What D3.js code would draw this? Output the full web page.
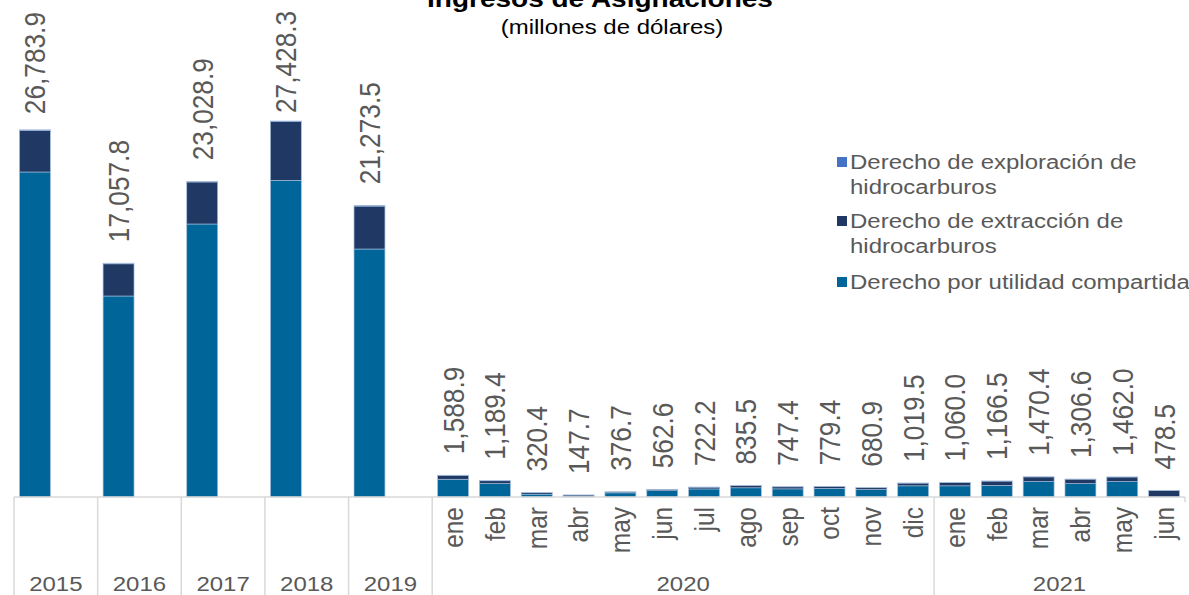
<!DOCTYPE html>
<html>
<head>
<meta charset="utf-8">
<script src="https://cdn.jsdelivr.net/npm/d3@7/dist/d3.min.js"></script>
<style>
  html, body { margin: 0; padding: 0; background: #fff; }
  svg { display: block; font-family: "Liberation Sans", Arial, sans-serif; }
</style>
</head>
<body>
<svg id="chart"></svg>
<script>
// categorias
const years = ['2015', '2016', '2017', '2018', '2019'];
const months2020 = ['ene', 'feb', 'mar', 'abr', 'may', 'jun', 'jul', 'ago', 'sep', 'oct', 'nov', 'dic'];
const months2021 = ['ene', 'feb', 'mar', 'abr', 'may', 'jun'];

// series (millones de dolares), 2015-2019 anual, luego mensual 2020 y 2021
const exploracion = [52.0, 48.0, 50.0, 48.3, 53.5,
  4.5, 4.5, 4.5, 4.5, 4.5, 4.5, 4.5, 4.5, 4.5, 4.5, 4.5, 4.5,
  4.5, 4.5, 4.5, 4.5, 4.5, 4.5];
const extraccion = [3024.0, 2347.8, 3064.9, 4280.0, 3130.0,
  290.0, 200.0, 110.0, 120.0, 70.0, 95.0, 130.0, 160.0, 150.0, 150.0, 130.0, 200.0,
  240.0, 310.0, 330.0, 320.0, 330.0, 474.0];
const utilidad = [23707.9, 14662.0, 19914.0, 23100.0, 18090.0,
  1294.4, 984.9, 205.9, 23.2, 302.2, 463.1, 587.7, 671.0, 592.9, 624.9, 546.4, 815.0,
  815.5, 852.0, 1135.9, 982.1, 1127.5, 0.0];
const totales = [26783.9, 17057.8, 23028.9, 27428.3, 21273.5,
  1588.9, 1189.4, 320.4, 147.7, 376.7, 562.6, 722.2, 835.5, 747.4, 779.4, 680.9, 1019.5,
  1060.0, 1166.5, 1470.4, 1306.6, 1462.0, 478.5];

const series = [
  { key: 'exploracion', name: 'Derecho de exploración de hidrocarburos', color: '#4472c4' },
  { key: 'extraccion', name: 'Derecho de extracción de hidrocarburos', color: '#203864' },
  { key: 'utilidad', name: 'Derecho por utilidad compartida', color: '#006699' }
];

const W = 1189, H = 595;
const SY = 0.875;            // the original is a bit squashed vertically
const VH = H / SY;
const grey = '#595959';
const lineCol = '#d9d9d9';

// build the rows: each year takes two slots on the axis, each month one
const groups = [];
const rows = [];
const slots = [];
years.forEach((y) => {
  rows.push({ slot: y, label: null, group: y });
  slots.push(y, y + '_');
  groups.push({ name: y, first: y, last: y + '_' });
});
[['2020', months2020], ['2021', months2021]].forEach(([g, ms]) => {
  ms.forEach((m) => {
    const k = g + '-' + m;
    rows.push({ slot: k, label: m, group: g });
    slots.push(k);
  });
  groups.push({ name: g, first: g + '-' + ms[0], last: g + '-' + ms[ms.length - 1] });
});
rows.forEach((r, i) => {
  r.exploracion = exploracion[i];
  r.extraccion = extraccion[i];
  r.utilidad = utilidad[i];
  r.total = totales[i];
});

const svg = d3.select('#chart')
  .attr('width', W).attr('height', H)
  .attr('viewBox', `0 0 ${W} ${VH}`)
  .attr('preserveAspectRatio', 'none');

const baseY = 497 / SY;
const x = d3.scaleBand().domain(slots).range([14, 1185]).paddingInner(0.26).paddingOuter(0.13);
const y = d3.scaleLinear().domain([0, 30000]).range([baseY, baseY - 30000 * 0.013709 / SY]);

const stack = d3.stack().keys(['utilidad', 'extraccion', 'exploracion']);
const stacked = stack(rows);
const colorOf = Object.fromEntries(series.map((s) => [s.key, s.color]));

svg.append('g')
  .selectAll('g')
  .data(stacked)
  .join('g')
  .attr('fill', (d) => colorOf[d.key])
  .selectAll('rect')
  .data((d) => d)
  .join('rect')
  .attr('x', (d) => x(d.data.slot))
  .attr('width', x.bandwidth())
  .attr('y', (d) => y(d[1]))
  .attr('height', (d) => Math.max(0, y(d[0]) - y(d[1])))
  .attr('stroke', '#a7bfdc')
  .attr('stroke-width', 0.7);

// data labels, pushed down when they would leave the top of the plot
const fmt = d3.format(',.1f');
const gap = 21 / SY;
const minTop = 12 / SY;
svg.append('g')
  .selectAll('text')
  .data(rows)
  .join('text')
  .attr('dy', '0.35em')
  .attr('text-anchor', 'start')
  .attr('font-size', 30)
  .attr('fill', grey)
  .text((d) => fmt(d.total))
  .attr('transform', function (d) {
    const len = this.getComputedTextLength();
    let ly = y(d.total) - gap;
    if (ly - len < minTop) ly = Math.min(minTop + len, y(d.total) - 8 / SY);
    return `translate(${x(d.slot) + x.bandwidth() / 2},${ly}) rotate(-90)`;
  });

// category axis
const axis = svg.append('g');
const half = x.step() * 0.13;
axis.append('line')
  .attr('x1', x.range()[0]).attr('x2', x.range()[1])
  .attr('y1', baseY).attr('y2', baseY)
  .attr('stroke', lineCol).attr('stroke-width', 1.5);

const bounds = groups.map((g) => x(g.first) - half);
axis.selectAll('line.sep')
  .data(bounds)
  .join('line')
  .attr('class', 'sep')
  .attr('x1', (d) => d).attr('x2', (d) => d)
  .attr('y1', baseY).attr('y2', VH)
  .attr('stroke', lineCol).attr('stroke-width', 1.5);
axis.append('line')
  .attr('x1', x.range()[1]).attr('x2', x.range()[1])
  .attr('y1', baseY).attr('y2', baseY + 6)
  .attr('stroke', lineCol).attr('stroke-width', 1.5);

axis.selectAll('text.month')
  .data(rows.filter((r) => r.label))
  .join('text')
  .attr('class', 'month')
  .attr('transform', (d) => `translate(${x(d.slot) + x.bandwidth() / 2},${507 / SY}) rotate(-90)`)
  .attr('dy', '0.35em')
  .attr('text-anchor', 'end')
  .attr('font-size', 28)
  .attr('fill', grey)
  .text((d) => d.label);

axis.selectAll('text.group')
  .data(groups)
  .join('text')
  .attr('class', 'group')
  .attr('x', (g) => ((x(g.first) - half) + (x(g.last) + x.bandwidth() + half)) / 2)
  .attr('y', 591 / SY)
  .attr('text-anchor', 'middle')
  .attr('font-size', 24)
  .attr('fill', grey)
  .text((g) => g.name);

// titles
svg.append('text')
  .attr('x', 600).attr('y', 7 / SY)
  .attr('text-anchor', 'middle')
  .attr('font-size', 28).attr('font-weight', 'bold')
  .attr('fill', '#000')
  .text('Ingresos de Asignaciones');
svg.append('text')
  .attr('x', 612).attr('y', 34 / SY)
  .attr('text-anchor', 'middle')
  .attr('font-size', 24)
  .attr('fill', '#000')
  .text('(millones de dólares)');

// legend
const legendRows = [
  { s: series[0], lines: ['Derecho de exploración de', 'hidrocarburos'], y: 162 },
  { s: series[1], lines: ['Derecho de extracción de', 'hidrocarburos'], y: 221 },
  { s: series[2], lines: ['Derecho por utilidad compartida'], y: 282 }
];
const legend = svg.append('g');
const li = legend.selectAll('g').data(legendRows).join('g');
li.append('rect')
  .attr('x', 837).attr('y', (d) => (d.y - 5) / SY)
  .attr('width', 10).attr('height', 10 / SY)
  .attr('fill', (d) => d.s.color);
li.append('text')
  .attr('x', 850)
  .attr('font-size', 24)
  .attr('fill', grey)
  .selectAll('tspan')
  .data((d) => d.lines.map((t, k) => ({ t, yy: (d.y + 7 + k * 25) / SY })))
  .join('tspan')
  .attr('x', 850)
  .attr('y', (d) => d.yy)
  .text((d) => d.t);
</script>
</body>
</html>
